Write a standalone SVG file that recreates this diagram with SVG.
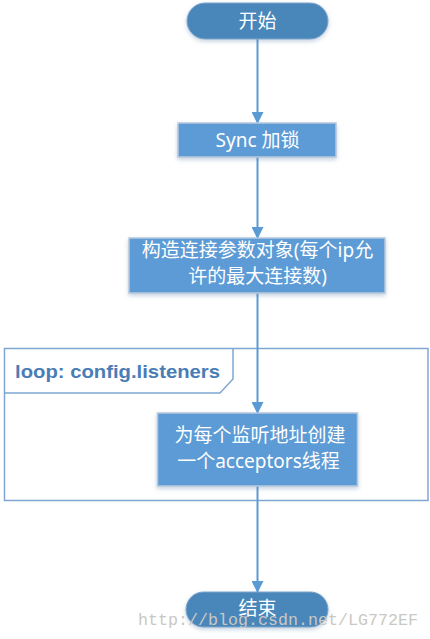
<svg xmlns="http://www.w3.org/2000/svg" width="430" height="639" viewBox="0 0 430 639">
<defs>
<filter id="sh" x="-10%" y="-20%" width="120%" height="150%">
<feDropShadow dx="0" dy="2" stdDeviation="2" flood-color="#5b7fa8" flood-opacity="0.35"/>
</filter>
<marker id="ah" markerWidth="12" markerHeight="12" refX="11" refY="6" orient="auto" markerUnits="userSpaceOnUse">
<path d="M0,0 L12,6 L0,12 Z" fill="#5B9BD5"/>
</marker>
</defs>
<style>
.term{fill:#4A86BA;stroke:#7FA6CC;stroke-width:1;filter:url(#sh)}
.box{fill:#5B9BD5;stroke:#B7C8DB;stroke-width:1.5;filter:url(#sh)}
.t{fill:#ffffff;font-family:"Noto Sans","Noto Sans CJK SC",sans-serif;font-size:19px;text-anchor:middle}
.c{fill:none;stroke:#5B9BD5;stroke-width:2}
.frame{fill:none;stroke:#7EA6D3;stroke-width:1.5}
.lbl{fill:#4A7DB5;font-family:"Liberation Sans",sans-serif;font-weight:bold;font-size:19px}
.wm{fill:#c9c9c2;font-family:"Liberation Mono",monospace;font-size:17px}
</style>
<g id="loop">
<rect class="frame" x="4.5" y="348.5" width="423.5" height="152"/>
<path class="frame" d="M4.5,393 L220,393 L233,379 L233,348.5"/>
<text class="lbl" x="15" y="378" textLength="205" lengthAdjust="spacingAndGlyphs">loop: config.listeners</text>
</g>
<g id="connectors">
<line class="c" x1="257.5" y1="39" x2="257.5" y2="123" marker-end="url(#ah)"/>
<line class="c" x1="257.5" y1="157" x2="257.5" y2="238" marker-end="url(#ah)"/>
<line class="c" x1="257.5" y1="293" x2="257.5" y2="413" marker-end="url(#ah)"/>
<line class="c" x1="257.5" y1="486" x2="257.5" y2="592" marker-end="url(#ah)"/>
</g>
<g id="start">
<rect class="term" x="187" y="3" width="141" height="36" rx="18"/>
<text class="t" x="257.5" y="28">开始</text>
</g>
<g id="sync">
<rect class="box" x="178" y="123" width="158" height="34"/>
<text class="t" x="257.5" y="146.5">Sync 加锁</text>
</g>
<g id="build">
<rect class="box" x="129" y="238" width="256" height="55"/>
<text class="t" x="257.5" y="257">构造连接参数对象(每个ip允</text>
<text class="t" x="257.5" y="283">许的最大连接数)</text>
</g>
<g id="acceptors">
<rect class="box" x="157.5" y="413" width="200" height="73"/>
<text class="t" x="260" y="442">为每个监听地址创建</text>
<text class="t" x="258.5" y="468">一个acceptors线程</text>
</g>
<g id="end">
<rect class="term" x="186" y="592" width="142" height="35" rx="17.5"/>
<text class="t" x="257.5" y="615">结束</text>
</g>
<text class="wm" x="138" y="625" textLength="280" lengthAdjust="spacingAndGlyphs">http://blog.csdn.net/LG772EF</text>
</svg>
